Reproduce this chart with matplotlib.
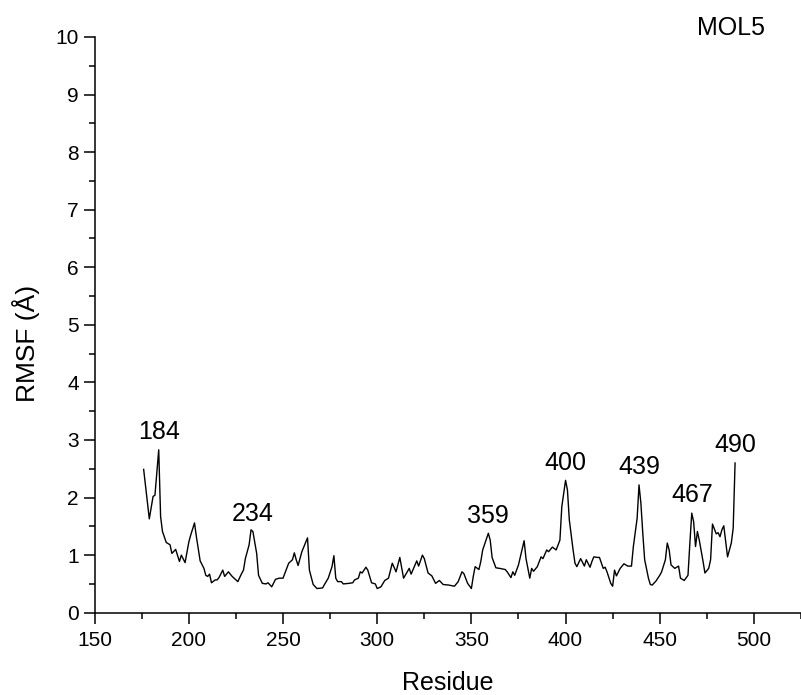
import matplotlib
matplotlib.use("Agg")
import matplotlib.pyplot as plt
from matplotlib.ticker import MultipleLocator

plt.rcParams['font.family'] = ['Liberation Sans', 'DejaVu Sans']

# RMSF per residue
residue = [176, 179, 181, 182, 184, 185, 186, 188, 190, 191, 193, 195, 196, 198,
           200, 201, 203, 204, 206, 208, 209, 210, 211, 212, 214, 215, 216, 218,
           219, 221, 223, 225, 226, 228, 229, 230, 232, 233, 234, 236, 237, 239,
           241, 242, 244, 246, 248, 250, 252, 253, 255, 256, 257, 258, 260, 263,
           264, 266, 268, 271, 272, 274, 276, 277, 278, 279, 281, 282, 285, 287,
           288, 290, 291, 292, 294, 295, 297, 299, 300, 302, 304, 306, 308, 310,
           312, 314, 317, 318, 321, 322, 324, 325, 327, 329, 331, 333, 335, 338,
           341, 343, 345, 346, 348, 350, 351, 352, 354, 355, 356, 359, 360, 361,
           363, 365, 368, 369, 371, 372, 373, 375, 378, 379, 381, 382, 383, 385,
           387, 388, 390, 391, 393, 395, 397, 398, 400, 401, 402, 404, 405, 406,
           408, 410, 411, 413, 414, 415, 417, 418, 420, 421, 422, 424, 425, 426,
           427, 429, 431, 433, 435, 436, 438, 439, 440, 441, 442, 444, 445, 446,
           448, 450, 451, 453, 454, 455, 456, 458, 460, 461, 463, 465, 466, 467,
           468, 469, 470, 471, 473, 474, 476, 477, 478, 480, 481, 482, 483, 484,
           486, 488, 489, 490]
rmsf = [2.49, 1.63, 2.02, 2.04, 2.83, 1.67, 1.41, 1.22, 1.18, 1.03, 1.10, 0.89, 1.00, 0.87,
        1.23, 1.35, 1.56, 1.32, 0.90, 0.77, 0.65, 0.63, 0.67, 0.52, 0.57, 0.57, 0.61, 0.74,
        0.63, 0.71, 0.63, 0.57, 0.54, 0.68, 0.74, 0.94, 1.18, 1.44, 1.41, 1.03, 0.65, 0.51,
        0.50, 0.52, 0.45, 0.58, 0.60, 0.60, 0.77, 0.86, 0.92, 1.04, 0.92, 0.82, 1.06, 1.30,
        0.74, 0.49, 0.42, 0.43, 0.49, 0.60, 0.80, 0.99, 0.60, 0.54, 0.54, 0.50, 0.51, 0.52,
        0.57, 0.60, 0.71, 0.69, 0.79, 0.74, 0.52, 0.50, 0.42, 0.45, 0.56, 0.60, 0.86, 0.71,
        0.96, 0.60, 0.77, 0.67, 0.90, 0.81, 1.00, 0.94, 0.69, 0.64, 0.51, 0.56, 0.49, 0.48,
        0.46, 0.54, 0.71, 0.68, 0.51, 0.42, 0.63, 0.80, 0.75, 0.89, 1.09, 1.38, 1.26, 0.96,
        0.78, 0.77, 0.75, 0.71, 0.61, 0.71, 0.65, 0.83, 1.25, 0.94, 0.60, 0.77, 0.72, 0.80,
        0.97, 0.94, 1.09, 1.06, 1.14, 1.09, 1.26, 1.84, 2.30, 2.13, 1.61, 1.09, 0.86, 0.80,
        0.94, 0.81, 0.92, 0.79, 0.89, 0.97, 0.96, 0.96, 0.77, 0.79, 0.71, 0.51, 0.46, 0.74,
        0.64, 0.77, 0.85, 0.81, 0.81, 1.15, 1.64, 2.22, 1.90, 1.38, 0.92, 0.60, 0.49, 0.48,
        0.55, 0.65, 0.71, 0.92, 1.21, 1.09, 0.83, 0.77, 0.81, 0.60, 0.56, 0.65, 1.21, 1.73,
        1.58, 1.15, 1.41, 1.26, 0.89, 0.69, 0.77, 0.92, 1.54, 1.37, 1.39, 1.32, 1.44, 1.51,
        0.97, 1.21, 1.47, 2.60]

# labelled peaks
peak_res = [184, 234, 359, 400, 439, 467, 490]

fig = plt.figure(figsize=(8.01, 6.95), dpi=100)
ax = fig.add_axes([0.1182, 0.1184, 0.8818, 0.8284])

ax.plot(residue, rmsf, color='black', linewidth=1.0)

for r in peak_res:
    v = rmsf[residue.index(r)]
    ax.text(r, v + 0.1, str(r), ha='center', va='bottom', fontsize=18)

fig.text(0.9126, 0.977, 'MOL5', ha='center', va='top', fontsize=18)

ax.set_xlim(150, 525)
ax.set_ylim(0, 10)
ax.xaxis.set_major_locator(MultipleLocator(50))
ax.xaxis.set_minor_locator(MultipleLocator(25))
ax.yaxis.set_major_locator(MultipleLocator(1))
ax.yaxis.set_minor_locator(MultipleLocator(0.5))
ax.tick_params(which='major', direction='out', length=8, width=1.1, labelsize=15)
ax.tick_params(axis='x', which='major', pad=5)
ax.tick_params(which='minor', direction='out', length=4.5, width=1.1)
ax.spines['top'].set_visible(False)
ax.spines['right'].set_visible(False)
ax.spines['left'].set_linewidth(1.1)
ax.spines['bottom'].set_linewidth(1.1)

ax.set_xlabel('Residue', fontsize=18, labelpad=15)
ax.set_ylabel('RMSF (Å)', fontsize=19)
ax.yaxis.set_label_coords(-0.078, 0.468)

plt.savefig('out.png', dpi=100)
